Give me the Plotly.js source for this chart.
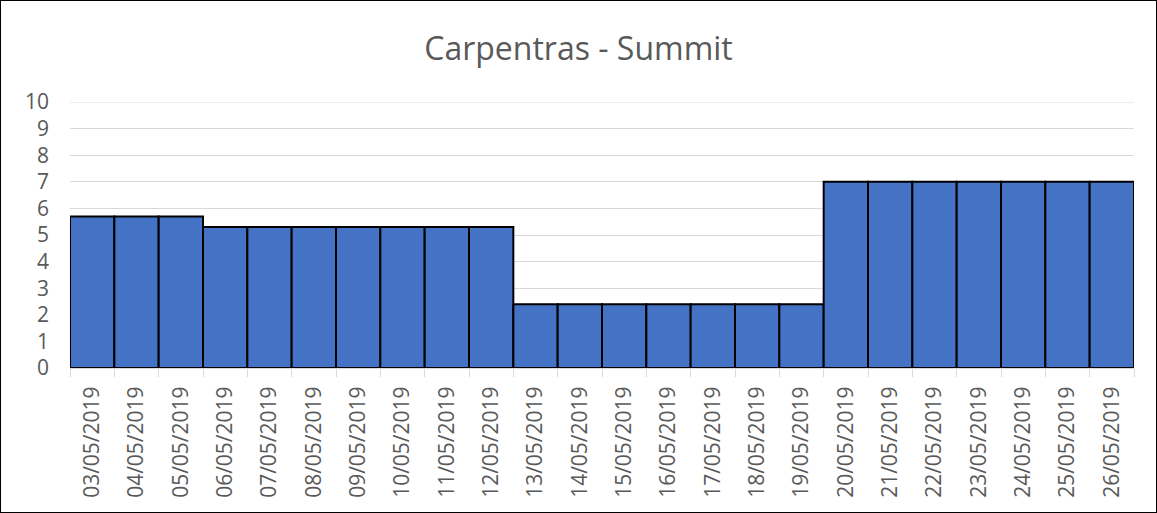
<!DOCTYPE html>
<html>
<head>
<meta charset="utf-8">
<script src="https://cdn.plot.ly/plotly-3.0.1.min.js"></script>
<style>
html,body{margin:0;padding:0;background:#fff;}
#wrap{position:absolute;left:0;top:0;width:1155px;height:511px;border:1px solid #000;}
#chart{width:1157px;height:513px;position:absolute;left:-1px;top:-1px;}
</style>
</head>
<body>
<div id="wrap"><div id="chart"></div></div>
<script>
const dates = ["03/05/2019","04/05/2019","05/05/2019","06/05/2019","07/05/2019","08/05/2019","09/05/2019","10/05/2019","11/05/2019","12/05/2019","13/05/2019","14/05/2019","15/05/2019","16/05/2019","17/05/2019","18/05/2019","19/05/2019","20/05/2019","21/05/2019","22/05/2019","23/05/2019","24/05/2019","25/05/2019","26/05/2019"];
const values = [5.7,5.7,5.7,5.3,5.3,5.3,5.3,5.3,5.3,5.3,2.4,2.4,2.4,2.4,2.4,2.4,2.4,7,7,7,7,7,7,7];
const yTicks = [0,1,2,3,4,5,6,7,8,9,10];
const chartTitle = "Carpentras - Summit";

Plotly.newPlot('chart', [{
  type: 'bar',
  x: dates,
  y: values,
  marker: {color: '#4472C4', line: {color: '#000000', width: 2}},
  hoverinfo: 'x+y'
}], {
  width: 1157, height: 513,
  margin: {l: 70, r: 23, t: 102, b: 145, pad: 0},
  paper_bgcolor: 'rgba(0,0,0,0)',
  plot_bgcolor: 'rgba(0,0,0,0)',
  bargap: 0,
  title: {text: chartTitle, font: {family: 'Open Sans', size: 32, color: '#595959'}, x: 0.5, xanchor: 'center', y: 0.905, yanchor: 'middle'},
  font: {family: 'Open Sans', color: '#595959'},
  xaxis: {
    type: 'category',
    tickangle: -90,
    tickfont: {size: 21, color: '#595959'},
    ticks: 'outside', tickson: 'boundaries', ticklen: 8, tickcolor: '#d9d9d9', tickwidth: 1,
    showline: true, linecolor: '#d9d9d9', linewidth: 1,
    showgrid: false, zeroline: false,
    ticklabelstandoff: 9
  },
  yaxis: {
    range: [0, 10],
    tickvals: yTicks,
    ticktext: yTicks.map(String),
    tickfont: {size: 21, color: '#595959'},
    showgrid: true, gridcolor: '#d9d9d9', gridwidth: 1,
    zeroline: false, showline: false, ticks: '',
    ticklabelstandoff: 20
  },
  shapes: [{type: 'line', xref: 'paper', x0: 0, x1: 1, yref: 'y', y0: yTicks[yTicks.length-1], y1: yTicks[yTicks.length-1], line: {color: '#d9d9d9', width: 1}, layer: 'below'}],
  showlegend: false
}, {displayModeBar: false, staticPlot: true});
</script>
</body>
</html>
